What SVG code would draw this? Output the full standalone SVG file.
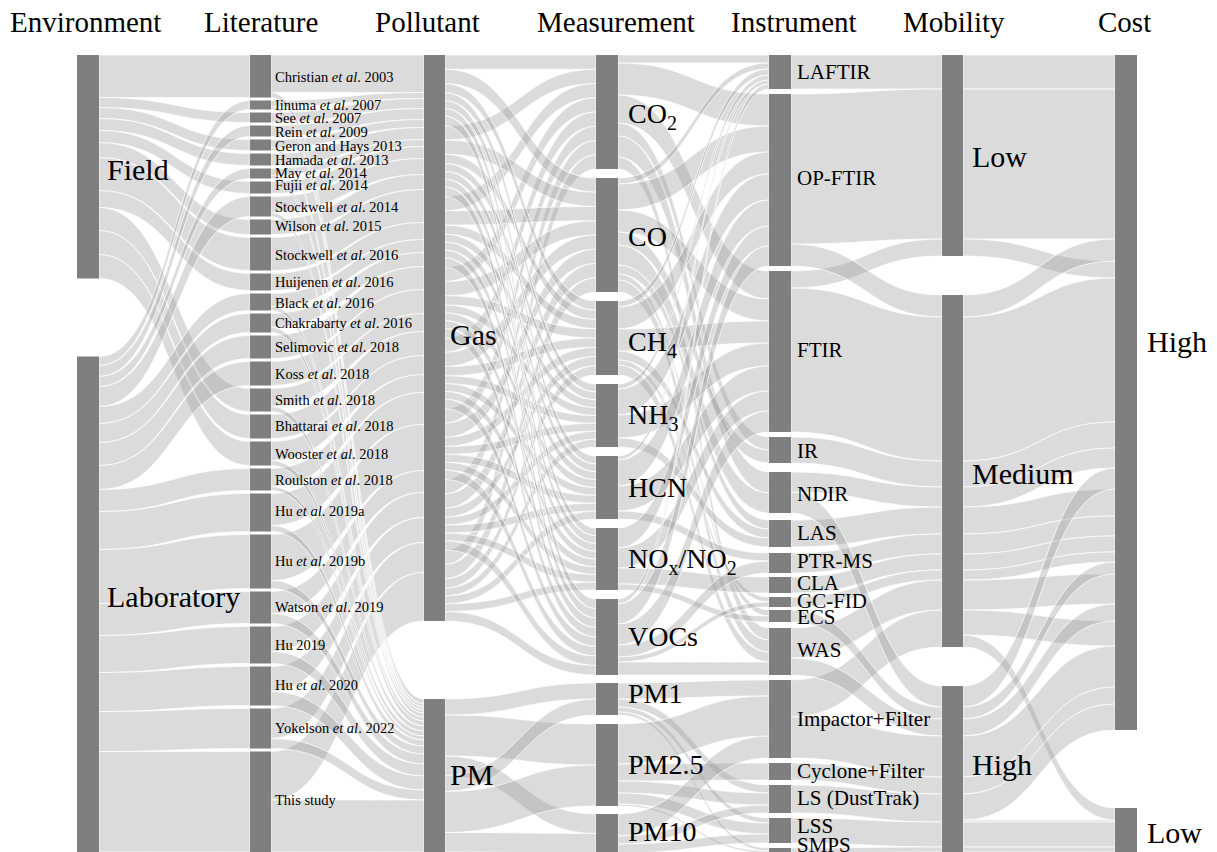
<svg xmlns="http://www.w3.org/2000/svg" width="1217" height="852" viewBox="0 0 1217 852">
<style>
.lk path{fill:#9a9a9a;fill-opacity:.36;stroke:#fff;stroke-width:.8;stroke-opacity:.9}
.nd{fill:#7f7f7f}
text{font-family:"Liberation Serif","Times New Roman",serif;fill:#000}
.hd{font-size:29px}
.lg{font-size:30px}
.ms{font-size:28px}
.in{font-size:21px}
.lt{font-size:14.5px}
.sb{font-size:20px}
.it{font-style:italic}
</style>
<rect width="1217" height="852" fill="#fff"/>
<g id="headers">
<text class="hd" x="10" y="32">Environment</text>
<text class="hd" x="204" y="32">Literature</text>
<text class="hd" x="375" y="32">Pollutant</text>
<text class="hd" x="537" y="32">Measurement</text>
<text class="hd" x="731" y="32">Instrument</text>
<text class="hd" x="903" y="32">Mobility</text>
<text class="hd" x="1098" y="32">Cost</text>
</g>
<g id="links" class="lk">
<g id="env-lit">
<path d="M99 55c75.5 0 75.5 0 151 0v42.5c-75.5 0-75.5 0-151 0z"/>
<path d="M99 97.5c75.5 0 75.5 15 151 15v10c-75.5 0-75.5-15-151-15z"/>
<path d="M99 107.5c75.5 0 75.5 32 151 32v11c-75.5 0-75.5-32-151-32z"/>
<path d="M99 118.5c75.5 0 75.5 35 151 35v12c-75.5 0-75.5-35-151-35z"/>
<path d="M99 130.5c75.5 0 75.5 51 151 51v12c-75.5 0-75.5-51-151-51z"/>
<path d="M99 142.5c75.5 0 75.5 77 151 77v15c-75.5 0-75.5-77-151-77z"/>
<path d="M99 157.5c75.5 0 75.5 80 151 80v33c-75.5 0-75.5-80-151-80z"/>
<path d="M99 190.5c75.5 0 75.5 83 151 83v17c-75.5 0-75.5-83-151-83z"/>
<path d="M99 207.5c75.5 0 75.5 181 151 181v23c-75.5 0-75.5-181-151-181z"/>
<path d="M99 230.5c75.5 0 75.5 184 151 184v24c-75.5 0-75.5-184-151-184z"/>
<path d="M99 254.5c75.5 0 75.5 187 151 187v24c-75.5 0-75.5-187-151-187z"/>
<path d="M99 356.5c75.5 0 75.5-256 151-256v9c-75.5 0-75.5 256-151 256z"/>
<path d="M99 365.5c75.5 0 75.5-240 151-240v11c-75.5 0-75.5 240-151 240z"/>
<path d="M99 376.5c75.5 0 75.5-208 151-208v10c-75.5 0-75.5 208-151 208z"/>
<path d="M99 386.5c75.5 0 75.5-190 151-190v20c-75.5 0-75.5 190-151 190z"/>
<path d="M99 406.5c75.5 0 75.5-113 151-113v17c-75.5 0-75.5 113-151 113z"/>
<path d="M99 423.5c75.5 0 75.5-110 151-110v19c-75.5 0-75.5 110-151 110z"/>
<path d="M99 442.5c75.5 0 75.5-107 151-107v23c-75.5 0-75.5 107-151 107z"/>
<path d="M99 465.5c75.5 0 75.5-104 151-104v24c-75.5 0-75.5 104-151 104z"/>
<path d="M99 489.5c75.5 0 75.5-21 151-21v22c-75.5 0-75.5 21-151 21z"/>
<path d="M99 511.5c75.5 0 75.5-18 151-18v38c-75.5 0-75.5 18-151 18z"/>
<path d="M99 549.5c75.5 0 75.5-15 151-15v54c-75.5 0-75.5 15-151 15z"/>
<path d="M99 603.5c75.5 0 75.5-12 151-12v32c-75.5 0-75.5 12-151 12z"/>
<path d="M99 635.5c75.5 0 75.5-9 151-9v37c-75.5 0-75.5 9-151 9z"/>
<path d="M99 672.5c75.5 0 75.5-6 151-6v39c-75.5 0-75.5 6-151 6z"/>
<path d="M99 711.5c75.5 0 75.5-3 151-3v40c-75.5 0-75.5 3-151 3z"/>
<path d="M99 751.5c75.5 0 75.5 0 151 0v100.5c-75.5 0-75.5 0-151 0z"/>
</g>
<g id="lit-pol">
<path d="M271 55c76.5 0 76.5 0 153 0v37.5c-76.5 0-76.5 0-153 0z"/>
<path d="M271 100.5c76.5 0 76.5-8 153-8v6c-76.5 0-76.5 8-153 8z"/>
<path d="M271 112.5c76.5 0 76.5-14 153-14v10c-76.5 0-76.5 14-153 14z"/>
<path d="M271 125.5c76.5 0 76.5-17 153-17v11c-76.5 0-76.5 17-153 17z"/>
<path d="M271 139.5c76.5 0 76.5-20 153-20v8c-76.5 0-76.5 20-153 20z"/>
<path d="M271 153.5c76.5 0 76.5-26 153-26v12c-76.5 0-76.5 26-153 26z"/>
<path d="M271 168.5c76.5 0 76.5-29 153-29v7c-76.5 0-76.5 29-153 29z"/>
<path d="M271 181.5c76.5 0 76.5-35 153-35v12c-76.5 0-76.5 35-153 35z"/>
<path d="M271 196.5c76.5 0 76.5-38 153-38v16c-76.5 0-76.5 38-153 38z"/>
<path d="M271 219.5c76.5 0 76.5-45 153-45v15c-76.5 0-76.5 45-153 45z"/>
<path d="M271 237.5c76.5 0 76.5-48 153-48v33c-76.5 0-76.5 48-153 48z"/>
<path d="M271 273.5c76.5 0 76.5-51 153-51v17c-76.5 0-76.5 51-153 51z"/>
<path d="M271 293.5c76.5 0 76.5-54 153-54v13c-76.5 0-76.5 54-153 54z"/>
<path d="M271 313.5c76.5 0 76.5-61 153-61v14c-76.5 0-76.5 61-153 61z"/>
<path d="M271 335.5c76.5 0 76.5-69 153-69v23c-76.5 0-76.5 69-153 69z"/>
<path d="M271 361.5c76.5 0 76.5-72 153-72v24c-76.5 0-76.5 72-153 72z"/>
<path d="M271 388.5c76.5 0 76.5-75 153-75v18c-76.5 0-76.5 75-153 75z"/>
<path d="M271 414.5c76.5 0 76.5-83 153-83v24c-76.5 0-76.5 83-153 83z"/>
<path d="M271 441.5c76.5 0 76.5-86 153-86v19c-76.5 0-76.5 86-153 86z"/>
<path d="M271 468.5c76.5 0 76.5-94 153-94v18c-76.5 0-76.5 94-153 94z"/>
<path d="M271 493.5c76.5 0 76.5-101 153-101v32c-76.5 0-76.5 101-153 101z"/>
<path d="M271 534.5c76.5 0 76.5-110 153-110v46c-76.5 0-76.5 110-153 110z"/>
<path d="M271 591.5c76.5 0 76.5-121 153-121v22c-76.5 0-76.5 121-153 121z"/>
<path d="M271 626.5c76.5 0 76.5-134 153-134v25c-76.5 0-76.5 134-153 134z"/>
<path d="M271 666.5c76.5 0 76.5-149 153-149v25c-76.5 0-76.5 149-153 149z"/>
<path d="M271 708.5c76.5 0 76.5-166 153-166v30c-76.5 0-76.5 166-153 166z"/>
<path d="M271 751.5c76.5 0 76.5-179 153-179v48.5c-76.5 0-76.5 179-153 179z"/>
<path d="M271 92.5c76.5 0 76.5 606.5 153 606.5v5c-76.5 0-76.5-606.5-153-606.5z"/>
<path d="M271 106.5c76.5 0 76.5 597.5 153 597.5v3c-76.5 0-76.5-597.5-153-597.5z"/>
<path d="M271 147.5c76.5 0 76.5 559.5 153 559.5v3c-76.5 0-76.5-559.5-153-559.5z"/>
<path d="M271 175.5c76.5 0 76.5 534.5 153 534.5v3c-76.5 0-76.5-534.5-153-534.5z"/>
<path d="M271 212.5c76.5 0 76.5 500.5 153 500.5v4c-76.5 0-76.5-500.5-153-500.5z"/>
<path d="M271 306.5c76.5 0 76.5 410.5 153 410.5v4c-76.5 0-76.5-410.5-153-410.5z"/>
<path d="M271 327.5c76.5 0 76.5 393.5 153 393.5v5c-76.5 0-76.5-393.5-153-393.5z"/>
<path d="M271 406.5c76.5 0 76.5 319.5 153 319.5v5c-76.5 0-76.5-319.5-153-319.5z"/>
<path d="M271 460.5c76.5 0 76.5 270.5 153 270.5v5c-76.5 0-76.5-270.5-153-270.5z"/>
<path d="M271 486.5c76.5 0 76.5 249.5 153 249.5v4c-76.5 0-76.5-249.5-153-249.5z"/>
<path d="M271 525.5c76.5 0 76.5 214.5 153 214.5v6c-76.5 0-76.5-214.5-153-214.5z"/>
<path d="M271 580.5c76.5 0 76.5 165.5 153 165.5v8c-76.5 0-76.5-165.5-153-165.5z"/>
<path d="M271 613.5c76.5 0 76.5 140.5 153 140.5v10c-76.5 0-76.5-140.5-153-140.5z"/>
<path d="M271 651.5c76.5 0 76.5 112.5 153 112.5v12c-76.5 0-76.5-112.5-153-112.5z"/>
<path d="M271 691.5c76.5 0 76.5 84.5 153 84.5v14c-76.5 0-76.5-84.5-153-84.5z"/>
<path d="M271 738.5c76.5 0 76.5 51.5 153 51.5v10c-76.5 0-76.5-51.5-153-51.5z"/>
<path d="M271 800c76.5 0 76.5 0 153 0v52c-76.5 0-76.5 0-153 0z"/>
</g>
<g id="pol-meas">
<path d="M445 55c75.5 0 75.5 0 151 0v14.25c-75.5 0-75.5 0-151 0z"/>
<path d="M445 125.75c75.5 0 75.5-56.5 151-56.5v14.25c-75.5 0-75.5 56.5-151 56.5z"/>
<path d="M445 196.5c75.5 0 75.5-113 151-113v14.25c-75.5 0-75.5 113-151 113z"/>
<path d="M445 267.25c75.5 0 75.5-169.5 151-169.5v14.25c-75.5 0-75.5 169.5-151 169.5z"/>
<path d="M445 338c75.5 0 75.5-226 151-226v14.25c-75.5 0-75.5 226-151 226z"/>
<path d="M445 408.75c75.5 0 75.5-282.5 151-282.5v14.25c-75.5 0-75.5 282.5-151 282.5z"/>
<path d="M445 479.5c75.5 0 75.5-339 151-339v14.25c-75.5 0-75.5 339-151 339z"/>
<path d="M445 550.25c75.5 0 75.5-395.5 151-395.5v14.25c-75.5 0-75.5 395.5-151 395.5z"/>
<path d="M445 69.25c75.5 0 75.5 108.75 151 108.75v14.25c-75.5 0-75.5-108.75-151-108.75z"/>
<path d="M445 140c75.5 0 75.5 52.25 151 52.25v14.25c-75.5 0-75.5-52.25-151-52.25z"/>
<path d="M445 210.75c75.5 0 75.5-4.25 151-4.25v14.25c-75.5 0-75.5 4.25-151 4.25z"/>
<path d="M445 281.5c75.5 0 75.5-60.75 151-60.75v14.25c-75.5 0-75.5 60.75-151 60.75z"/>
<path d="M445 352.25c75.5 0 75.5-117.25 151-117.25v14.25c-75.5 0-75.5 117.25-151 117.25z"/>
<path d="M445 423c75.5 0 75.5-173.75 151-173.75v14.25c-75.5 0-75.5 173.75-151 173.75z"/>
<path d="M445 493.75c75.5 0 75.5-230.25 151-230.25v14.25c-75.5 0-75.5 230.25-151 230.25z"/>
<path d="M445 564.5c75.5 0 75.5-286.75 151-286.75v14.25c-75.5 0-75.5 286.75-151 286.75z"/>
<path d="M445 83.5c75.5 0 75.5 217.5 151 217.5v9.25c-75.5 0-75.5-217.5-151-217.5z"/>
<path d="M445 154.25c75.5 0 75.5 156 151 156v9.25c-75.5 0-75.5-156-151-156z"/>
<path d="M445 225c75.5 0 75.5 94.5 151 94.5v9.25c-75.5 0-75.5-94.5-151-94.5z"/>
<path d="M445 295.75c75.5 0 75.5 33 151 33v9.25c-75.5 0-75.5-33-151-33z"/>
<path d="M445 366.5c75.5 0 75.5-28.5 151-28.5v9.25c-75.5 0-75.5 28.5-151 28.5z"/>
<path d="M445 437.25c75.5 0 75.5-90 151-90v9.25c-75.5 0-75.5 90-151 90z"/>
<path d="M445 508c75.5 0 75.5-151.5 151-151.5v9.25c-75.5 0-75.5 151.5-151 151.5z"/>
<path d="M445 578.75c75.5 0 75.5-213 151-213v9.25c-75.5 0-75.5 213-151 213z"/>
<path d="M445 92.75c75.5 0 75.5 291.25 151 291.25v7.88c-75.5 0-75.5-291.25-151-291.25z"/>
<path d="M445 163.5c75.5 0 75.5 228.37 151 228.37v7.88c-75.5 0-75.5-228.37-151-228.37z"/>
<path d="M445 234.25c75.5 0 75.5 165.5 151 165.5v7.88c-75.5 0-75.5-165.5-151-165.5z"/>
<path d="M445 305c75.5 0 75.5 102.62 151 102.62v7.88c-75.5 0-75.5-102.62-151-102.62z"/>
<path d="M445 375.75c75.5 0 75.5 39.75 151 39.75v7.88c-75.5 0-75.5-39.75-151-39.75z"/>
<path d="M445 446.5c75.5 0 75.5-23.13 151-23.13v7.88c-75.5 0-75.5 23.13-151 23.13z"/>
<path d="M445 517.25c75.5 0 75.5-86 151-86v7.88c-75.5 0-75.5 86-151 86z"/>
<path d="M445 588c75.5 0 75.5-148.88 151-148.88v7.88c-75.5 0-75.5 148.88-151 148.88z"/>
<path d="M445 100.62c75.5 0 75.5 355.38 151 355.38v7.88c-75.5 0-75.5-355.38-151-355.38z"/>
<path d="M445 171.37c75.5 0 75.5 292.5 151 292.5v7.88c-75.5 0-75.5-292.5-151-292.5z"/>
<path d="M445 242.12c75.5 0 75.5 229.63 151 229.63v7.88c-75.5 0-75.5-229.63-151-229.63z"/>
<path d="M445 312.87c75.5 0 75.5 166.75 151 166.75v7.88c-75.5 0-75.5-166.75-151-166.75z"/>
<path d="M445 383.62c75.5 0 75.5 103.88 151 103.88v7.88c-75.5 0-75.5-103.88-151-103.88z"/>
<path d="M445 454.37c75.5 0 75.5 41 151 41v7.88c-75.5 0-75.5-41-151-41z"/>
<path d="M445 525.12c75.5 0 75.5-21.87 151-21.87v7.88c-75.5 0-75.5 21.87-151 21.87z"/>
<path d="M445 595.87c75.5 0 75.5-84.75 151-84.75v7.88c-75.5 0-75.5 84.75-151 84.75z"/>
<path d="M445 108.5c75.5 0 75.5 419.5 151 419.5v7.75c-75.5 0-75.5-419.5-151-419.5z"/>
<path d="M445 179.25c75.5 0 75.5 356.5 151 356.5v7.75c-75.5 0-75.5-356.5-151-356.5z"/>
<path d="M445 250c75.5 0 75.5 293.5 151 293.5v7.75c-75.5 0-75.5-293.5-151-293.5z"/>
<path d="M445 320.75c75.5 0 75.5 230.5 151 230.5v7.75c-75.5 0-75.5-230.5-151-230.5z"/>
<path d="M445 391.5c75.5 0 75.5 167.5 151 167.5v7.75c-75.5 0-75.5-167.5-151-167.5z"/>
<path d="M445 462.25c75.5 0 75.5 104.5 151 104.5v7.75c-75.5 0-75.5-104.5-151-104.5z"/>
<path d="M445 533c75.5 0 75.5 41.5 151 41.5v7.75c-75.5 0-75.5-41.5-151-41.5z"/>
<path d="M445 603.75c75.5 0 75.5-21.5 151-21.5v7.75c-75.5 0-75.5 21.5-151 21.5z"/>
<path d="M445 116.25c75.5 0 75.5 482.75 151 482.75v9.5c-75.5 0-75.5-482.75-151-482.75z"/>
<path d="M445 187c75.5 0 75.5 421.5 151 421.5v9.5c-75.5 0-75.5-421.5-151-421.5z"/>
<path d="M445 257.75c75.5 0 75.5 360.25 151 360.25v9.5c-75.5 0-75.5-360.25-151-360.25z"/>
<path d="M445 328.5c75.5 0 75.5 299 151 299v9.5c-75.5 0-75.5-299-151-299z"/>
<path d="M445 399.25c75.5 0 75.5 237.75 151 237.75v9.5c-75.5 0-75.5-237.75-151-237.75z"/>
<path d="M445 470c75.5 0 75.5 176.5 151 176.5v9.5c-75.5 0-75.5-176.5-151-176.5z"/>
<path d="M445 540.75c75.5 0 75.5 115.25 151 115.25v9.5c-75.5 0-75.5-115.25-151-115.25z"/>
<path d="M445 611.5c75.5 0 75.5 54 151 54v9.5c-75.5 0-75.5-54-151-54z"/>
<path d="M445 699c75.5 0 75.5-16 151-16v16c-75.5 0-75.5 16-151 16z"/>
<path d="M445 715c75.5 0 75.5 9 151 9v41c-75.5 0-75.5-9-151-9z"/>
<path d="M445 756c75.5 0 75.5 58 151 58v19.5c-75.5 0-75.5-58-151-58z"/>
<path d="M445 775.5c75.5 0 75.5-76.5 151-76.5v16c-75.5 0-75.5 76.5-151 76.5z"/>
<path d="M445 791.5c75.5 0 75.5-26.5 151-26.5v41c-75.5 0-75.5 26.5-151 26.5z"/>
<path d="M445 832.5c75.5 0 75.5 1 151 1v19.5c-75.5 0-75.5-1-151-1z"/>
</g>
<g id="meas-inst">
<path d="M618 55c75.5 0 75.5 0 151 0v8c-75.5 0-75.5 0-151 0z"/>
<path d="M618 63c75.5 0 75.5 31 151 31v32c-75.5 0-75.5-31-151-31z"/>
<path d="M618 95c75.5 0 75.5 176 151 176v28c-75.5 0-75.5-176-151-176z"/>
<path d="M618 123c75.5 0 75.5 314 151 314v13c-75.5 0-75.5-314-151-314z"/>
<path d="M618 136c75.5 0 75.5 336 151 336v21c-75.5 0-75.5-336-151-336z"/>
<path d="M618 157c75.5 0 75.5 471 151 471v12c-75.5 0-75.5-471-151-471z"/>
<path d="M618 178c75.5 0 75.5-115 151-115v6c-75.5 0-75.5 115-151 115z"/>
<path d="M618 184c75.5 0 75.5-58 151-58v26c-75.5 0-75.5 58-151 58z"/>
<path d="M618 210c75.5 0 75.5 89 151 89v22c-75.5 0-75.5-89-151-89z"/>
<path d="M618 232c75.5 0 75.5 218 151 218v13c-75.5 0-75.5-218-151-218z"/>
<path d="M618 245c75.5 0 75.5 248 151 248v20c-75.5 0-75.5-248-151-248z"/>
<path d="M618 265c75.5 0 75.5 255 151 255v9c-75.5 0-75.5-255-151-255z"/>
<path d="M618 274c75.5 0 75.5 336 151 336v6c-75.5 0-75.5-336-151-336z"/>
<path d="M618 280c75.5 0 75.5 360 151 360v12c-75.5 0-75.5-360-151-360z"/>
<path d="M618 301c75.5 0 75.5-232 151-232v6c-75.5 0-75.5 232-151 232z"/>
<path d="M618 307c75.5 0 75.5-155 151-155v22c-75.5 0-75.5 155-151 155z"/>
<path d="M618 329c75.5 0 75.5-8 151-8v22c-75.5 0-75.5 8-151 8z"/>
<path d="M618 351c75.5 0 75.5 178 151 178v9c-75.5 0-75.5-178-151-178z"/>
<path d="M618 360c75.5 0 75.5 237 151 237v5c-75.5 0-75.5-237-151-237z"/>
<path d="M618 365c75.5 0 75.5 287 151 287v10c-75.5 0-75.5-287-151-287z"/>
<path d="M618 384c75.5 0 75.5-309 151-309v5c-75.5 0-75.5 309-151 309z"/>
<path d="M618 389c75.5 0 75.5-215 151-215v26c-75.5 0-75.5 215-151 215z"/>
<path d="M618 415c75.5 0 75.5-72 151-72v23c-75.5 0-75.5 72-151 72z"/>
<path d="M618 438c75.5 0 75.5 100 151 100v9c-75.5 0-75.5-100-151-100z"/>
<path d="M618 456c75.5 0 75.5-376 151-376v4c-75.5 0-75.5 376-151 376z"/>
<path d="M618 460c75.5 0 75.5-260 151-260v26c-75.5 0-75.5 260-151 260z"/>
<path d="M618 486c75.5 0 75.5-120 151-120v25c-75.5 0-75.5 120-151 120z"/>
<path d="M618 511c75.5 0 75.5 42 151 42v8c-75.5 0-75.5-42-151-42z"/>
<path d="M618 528c75.5 0 75.5-302 151-302v20c-75.5 0-75.5 302-151 302z"/>
<path d="M618 548c75.5 0 75.5-157 151-157v20c-75.5 0-75.5 157-151 157z"/>
<path d="M618 568c75.5 0 75.5 9 151 9v16c-75.5 0-75.5-9-151-9z"/>
<path d="M618 584c75.5 0 75.5 32 151 32v6c-75.5 0-75.5-32-151-32z"/>
<path d="M618 599c75.5 0 75.5-515 151-515v5c-75.5 0-75.5 515-151 515z"/>
<path d="M618 604c75.5 0 75.5-358 151-358v20c-75.5 0-75.5 358-151 358z"/>
<path d="M618 624c75.5 0 75.5-213 151-213v21c-75.5 0-75.5 213-151 213z"/>
<path d="M618 645c75.5 0 75.5-84 151-84v12c-75.5 0-75.5 84-151 84z"/>
<path d="M618 657c75.5 0 75.5-55 151-55v5c-75.5 0-75.5 55-151 55z"/>
<path d="M618 662c75.5 0 75.5 0 151 0v13c-75.5 0-75.5 0-151 0z"/>
<path d="M618 683c75.5 0 75.5-3 151-3v16c-75.5 0-75.5 3-151 3z"/>
<path d="M618 699c75.5 0 75.5 86 151 86v8c-75.5 0-75.5-86-151-86z"/>
<path d="M618 707c75.5 0 75.5 111 151 111v5c-75.5 0-75.5-111-151-111z"/>
<path d="M618 712c75.5 0 75.5 136 151 136v3c-75.5 0-75.5-136-151-136z"/>
<path d="M618 724c75.5 0 75.5-28 151-28v40c-75.5 0-75.5 28-151 28z"/>
<path d="M618 764c75.5 0 75.5-1 151-1v17c-75.5 0-75.5 1-151 1z"/>
<path d="M618 781c75.5 0 75.5 12 151 12v12c-75.5 0-75.5-12-151-12z"/>
<path d="M618 793c75.5 0 75.5 30 151 30v11c-75.5 0-75.5-30-151-30z"/>
<path d="M618 804c75.5 0 75.5 47 151 47v2c-75.5 0-75.5-47-151-47z"/>
<path d="M618 814c75.5 0 75.5-78 151-78v22c-75.5 0-75.5 78-151 78z"/>
<path d="M618 836c75.5 0 75.5-31 151-31v8c-75.5 0-75.5 31-151 31z"/>
<path d="M618 844c75.5 0 75.5-10 151-10v9c-75.5 0-75.5 10-151 10z"/>
</g>
<g id="inst-mob">
<path d="M791 55c75.5 0 75.5 0 151 0v34c-75.5 0-75.5 0-151 0z"/>
<path d="M791 94c75.5 0 75.5-5 151-5v150c-75.5 0-75.5 5-151 5z"/>
<path d="M791 271c75.5 0 75.5-32 151-32v17c-75.5 0-75.5 32-151 32z"/>
<path d="M791 244c75.5 0 75.5 51 151 51v22c-75.5 0-75.5-51-151-51z"/>
<path d="M791 288c75.5 0 75.5 29 151 29v144c-75.5 0-75.5-29-151-29z"/>
<path d="M791 437c75.5 0 75.5 24 151 24v26c-75.5 0-75.5-24-151-24z"/>
<path d="M791 472c75.5 0 75.5 15 151 15v20c-75.5 0-75.5-15-151-15z"/>
<path d="M791 520c75.5 0 75.5-13 151-13v27c-75.5 0-75.5 13-151 13z"/>
<path d="M791 553c75.5 0 75.5-19 151-19v20c-75.5 0-75.5 19-151 19z"/>
<path d="M791 577c75.5 0 75.5-23 151-23v16c-75.5 0-75.5 23-151 23z"/>
<path d="M791 597c75.5 0 75.5-27 151-27v10c-75.5 0-75.5 27-151 27z"/>
<path d="M791 628c75.5 0 75.5-48 151-48v30c-75.5 0-75.5 48-151 48z"/>
<path d="M791 680c75.5 0 75.5-70 151-70v37c-75.5 0-75.5 70-151 70z"/>
<path d="M791 492c75.5 0 75.5 194 151 194v21c-75.5 0-75.5-194-151-194z"/>
<path d="M791 610c75.5 0 75.5 97 151 97v12c-75.5 0-75.5-97-151-97z"/>
<path d="M791 658c75.5 0 75.5 61 151 61v17c-75.5 0-75.5-61-151-61z"/>
<path d="M791 717c75.5 0 75.5 19 151 19v41c-75.5 0-75.5-19-151-19z"/>
<path d="M791 763c75.5 0 75.5 14 151 14v17c-75.5 0-75.5-14-151-14z"/>
<path d="M791 785c75.5 0 75.5 9 151 9v28c-75.5 0-75.5-9-151-9z"/>
<path d="M791 818c75.5 0 75.5 4 151 4v25c-75.5 0-75.5-4-151-4z"/>
<path d="M791 848c75.5 0 75.5-1 151-1v5c-75.5 0-75.5 1-151 1z"/>
</g>
<g id="mob-cost">
<path d="M963 55c76 0 76 0 152 0v34c-76 0-76 0-152 0z"/>
<path d="M963 89c76 0 76 0 152 0v150c-76 0-76 0-152 0z"/>
<path d="M963 239c76 0 76 22 152 22v17c-76 0-76-22-152-22z"/>
<path d="M963 295c76 0 76-56 152-56v22c-76 0-76 56-152 56z"/>
<path d="M963 317c76 0 76-39 152-39v144c-76 0-76 39-152 39z"/>
<path d="M963 461c76 0 76-39 152-39v26c-76 0-76 39-152 39z"/>
<path d="M963 487c76 0 76-39 152-39v20c-76 0-76 39-152 39z"/>
<path d="M963 507c76 0 76-18 152-18v27c-76 0-76 18-152 18z"/>
<path d="M963 534c76 0 76-18 152-18v20c-76 0-76 18-152 18z"/>
<path d="M963 554c76 0 76-18 152-18v16c-76 0-76 18-152 18z"/>
<path d="M963 570c76 0 76-18 152-18v10c-76 0-76 18-152 18z"/>
<path d="M963 580c76 0 76-6 152-6v30c-76 0-76 6-152 6z"/>
<path d="M963 610c76 0 76 11 152 11v25c-76 0-76-11-152-11z"/>
<path d="M963 635c76 0 76 173 152 173v12c-76 0-76-173-152-173z"/>
<path d="M963 686c76 0 76-218 152-218v21c-76 0-76 218-152 218z"/>
<path d="M963 707c76 0 76-145 152-145v12c-76 0-76 145-152 145z"/>
<path d="M963 719c76 0 76-115 152-115v17c-76 0-76 115-152 115z"/>
<path d="M963 736c76 0 76-90 152-90v41c-76 0-76 90-152 90z"/>
<path d="M963 777c76 0 76-90 152-90v17c-76 0-76 90-152 90z"/>
<path d="M963 794c76 0 76-90 152-90v26c-76 0-76 90-152 90z"/>
<path d="M963 820c76 0 76 0 152 0v2c-76 0-76 0-152 0z"/>
<path d="M963 822c76 0 76 0 152 0v25c-76 0-76 0-152 0z"/>
<path d="M963 847c76 0 76 0 152 0v5c-76 0-76 0-152 0z"/>
</g>
</g>
<g id="n-field"><rect class="nd" x="77" y="55" width="22" height="223.5"/><text class="lg" x="107" y="180">Field</text></g>
<g id="n-laboratory"><rect class="nd" x="77" y="356.5" width="22" height="495.5"/><text class="lg" x="107" y="607">Laboratory</text></g>
<g id="n-christian2003"><rect class="nd" x="250" y="55" width="21" height="42.5"/><text class="lt" x="275" y="82">Christian <tspan class="it">et al</tspan>. 2003</text></g>
<g id="n-iinuma2007"><rect class="nd" x="250" y="100.5" width="21" height="9"/><text class="lt" x="275" y="110">Iinuma <tspan class="it">et al</tspan>. 2007</text></g>
<g id="n-see2007"><rect class="nd" x="250" y="112.5" width="21" height="10"/><text class="lt" x="275" y="123">See <tspan class="it">et al</tspan>. 2007</text></g>
<g id="n-rein2009"><rect class="nd" x="250" y="125.5" width="21" height="11"/><text class="lt" x="275" y="137">Rein <tspan class="it">et al</tspan>. 2009</text></g>
<g id="n-geron2013"><rect class="nd" x="250" y="139.5" width="21" height="11"/><text class="lt" x="275" y="151">Geron and Hays 2013</text></g>
<g id="n-hamada2013"><rect class="nd" x="250" y="153.5" width="21" height="12"/><text class="lt" x="275" y="165">Hamada <tspan class="it">et al</tspan>. 2013</text></g>
<g id="n-may2014"><rect class="nd" x="250" y="168.5" width="21" height="10"/><text class="lt" x="275" y="178">May <tspan class="it">et al</tspan>. 2014</text></g>
<g id="n-fujii2014"><rect class="nd" x="250" y="181.5" width="21" height="12"/><text class="lt" x="275" y="190">Fujii <tspan class="it">et al</tspan>. 2014</text></g>
<g id="n-stockwell2014"><rect class="nd" x="250" y="196.5" width="21" height="20"/><text class="lt" x="275" y="212">Stockwell <tspan class="it">et al</tspan>. 2014</text></g>
<g id="n-wilson2015"><rect class="nd" x="250" y="219.5" width="21" height="15"/><text class="lt" x="275" y="231">Wilson <tspan class="it">et al</tspan>. 2015</text></g>
<g id="n-stockwell2016"><rect class="nd" x="250" y="237.5" width="21" height="33"/><text class="lt" x="275" y="260">Stockwell <tspan class="it">et al</tspan>. 2016</text></g>
<g id="n-huijenen2016"><rect class="nd" x="250" y="273.5" width="21" height="17"/><text class="lt" x="275" y="287">Huijenen <tspan class="it">et al</tspan>. 2016</text></g>
<g id="n-black2016"><rect class="nd" x="250" y="293.5" width="21" height="17"/><text class="lt" x="275" y="308">Black <tspan class="it">et al</tspan>. 2016</text></g>
<g id="n-chakrabarty2016"><rect class="nd" x="250" y="313.5" width="21" height="19"/><text class="lt" x="275" y="328">Chakrabarty <tspan class="it">et al</tspan>. 2016</text></g>
<g id="n-selimovic2018"><rect class="nd" x="250" y="335.5" width="21" height="23"/><text class="lt" x="275" y="352">Selimovic <tspan class="it">et al</tspan>. 2018</text></g>
<g id="n-koss2018"><rect class="nd" x="250" y="361.5" width="21" height="24"/><text class="lt" x="275" y="379">Koss <tspan class="it">et al</tspan>. 2018</text></g>
<g id="n-smith2018"><rect class="nd" x="250" y="388.5" width="21" height="23"/><text class="lt" x="275" y="405">Smith <tspan class="it">et al</tspan>. 2018</text></g>
<g id="n-bhattarai2018"><rect class="nd" x="250" y="414.5" width="21" height="24"/><text class="lt" x="275" y="431">Bhattarai <tspan class="it">et al</tspan>. 2018</text></g>
<g id="n-wooster2018"><rect class="nd" x="250" y="441.5" width="21" height="24"/><text class="lt" x="275" y="459">Wooster <tspan class="it">et al</tspan>. 2018</text></g>
<g id="n-roulston2018"><rect class="nd" x="250" y="468.5" width="21" height="22"/><text class="lt" x="275" y="485">Roulston <tspan class="it">et al</tspan>. 2018</text></g>
<g id="n-hu2019a"><rect class="nd" x="250" y="493.5" width="21" height="38"/><text class="lt" x="275" y="516">Hu <tspan class="it">et al</tspan>. 2019a</text></g>
<g id="n-hu2019b"><rect class="nd" x="250" y="534.5" width="21" height="54"/><text class="lt" x="275" y="566">Hu <tspan class="it">et al</tspan>. 2019b</text></g>
<g id="n-watson2019"><rect class="nd" x="250" y="591.5" width="21" height="32"/><text class="lt" x="275" y="612">Watson <tspan class="it">et al</tspan>. 2019</text></g>
<g id="n-hu2019"><rect class="nd" x="250" y="626.5" width="21" height="37"/><text class="lt" x="275" y="650">Hu 2019</text></g>
<g id="n-hu2020"><rect class="nd" x="250" y="666.5" width="21" height="39"/><text class="lt" x="275" y="690">Hu <tspan class="it">et al</tspan>. 2020</text></g>
<g id="n-yokelson2022"><rect class="nd" x="250" y="708.5" width="21" height="40"/><text class="lt" x="275" y="733">Yokelson <tspan class="it">et al</tspan>. 2022</text></g>
<g id="n-thisstudy"><rect class="nd" x="250" y="751.5" width="21" height="100.5"/><text class="lt" x="275" y="805">This study</text></g>
<g id="n-gas"><rect class="nd" x="424" y="55" width="21" height="566"/><text class="lg" x="450" y="345">Gas</text></g>
<g id="n-pm"><rect class="nd" x="424" y="699" width="21" height="153"/><text class="lg" x="450" y="785">PM</text></g>
<g id="n-co2"><rect class="nd" x="596" y="55" width="22" height="114"/><text class="ms" x="628" y="123">CO<tspan class="sb" dy="7">2</tspan></text></g>
<g id="n-co"><rect class="nd" x="596" y="178" width="22" height="114"/><text class="ms" x="628" y="246">CO</text></g>
<g id="n-ch4"><rect class="nd" x="596" y="301" width="22" height="74"/><text class="ms" x="628" y="351">CH<tspan class="sb" dy="7">4</tspan></text></g>
<g id="n-nh3"><rect class="nd" x="596" y="384" width="22" height="63"/><text class="ms" x="628" y="424">NH<tspan class="sb" dy="7">3</tspan></text></g>
<g id="n-hcn"><rect class="nd" x="596" y="456" width="22" height="63"/><text class="ms" x="628" y="497">HCN</text></g>
<g id="n-nox"><rect class="nd" x="596" y="528" width="22" height="62"/><text class="ms" x="628" y="568">NO<tspan class="sb" dy="7">x</tspan><tspan dy="-7">/NO</tspan><tspan class="sb" dy="7">2</tspan></text></g>
<g id="n-vocs"><rect class="nd" x="596" y="599" width="22" height="76"/><text class="ms" x="628" y="646">VOCs</text></g>
<g id="n-pm1"><rect class="nd" x="596" y="683" width="22" height="32"/><text class="ms" x="628" y="703">PM1</text></g>
<g id="n-pm25"><rect class="nd" x="596" y="724" width="22" height="82"/><text class="ms" x="628" y="774">PM2.5</text></g>
<g id="n-pm10"><rect class="nd" x="596" y="814" width="22" height="39"/><text class="ms" x="628" y="841">PM10</text></g>
<g id="n-laftir"><rect class="nd" x="769" y="55" width="22" height="34"/><text class="in" x="797" y="79">LAFTIR</text></g>
<g id="n-opftir"><rect class="nd" x="769" y="94" width="22" height="172"/><text class="in" x="797" y="185">OP-FTIR</text></g>
<g id="n-ftir"><rect class="nd" x="769" y="271" width="22" height="161"/><text class="in" x="797" y="357">FTIR</text></g>
<g id="n-ir"><rect class="nd" x="769" y="437" width="22" height="26"/><text class="in" x="797" y="458">IR</text></g>
<g id="n-ndir"><rect class="nd" x="769" y="472" width="22" height="41"/><text class="in" x="797" y="501">NDIR</text></g>
<g id="n-las"><rect class="nd" x="769" y="520" width="22" height="27"/><text class="in" x="797" y="540">LAS</text></g>
<g id="n-ptrms"><rect class="nd" x="769" y="553" width="22" height="20"/><text class="in" x="797" y="568">PTR-MS</text></g>
<g id="n-cla"><rect class="nd" x="769" y="577" width="22" height="16"/><text class="in" x="797" y="590">CLA</text></g>
<g id="n-gcfid"><rect class="nd" x="769" y="597" width="22" height="10"/><text class="in" x="797" y="608">GC-FID</text></g>
<g id="n-ecs"><rect class="nd" x="769" y="610" width="22" height="12"/><text class="in" x="797" y="624">ECS</text></g>
<g id="n-was"><rect class="nd" x="769" y="628" width="22" height="47"/><text class="in" x="797" y="657">WAS</text></g>
<g id="n-impactor"><rect class="nd" x="769" y="680" width="22" height="78"/><text class="in" x="797" y="726">Impactor+Filter</text></g>
<g id="n-cyclone"><rect class="nd" x="769" y="763" width="22" height="17"/><text class="in" x="797" y="778">Cyclone+Filter</text></g>
<g id="n-ls"><rect class="nd" x="769" y="785" width="22" height="28"/><text class="in" x="797" y="805">LS (DustTrak)</text></g>
<g id="n-lss"><rect class="nd" x="769" y="818" width="22" height="25"/><text class="in" x="797" y="833">LSS</text></g>
<g id="n-smps"><rect class="nd" x="769" y="848" width="22" height="5"/><text class="in" x="797" y="852">SMPS</text></g>
<g id="n-mob-low"><rect class="nd" x="942" y="55" width="21" height="201"/><text class="lg" x="972" y="167">Low</text></g>
<g id="n-mob-medium"><rect class="nd" x="942" y="295" width="21" height="352"/><text class="lg" x="972" y="484">Medium</text></g>
<g id="n-mob-high"><rect class="nd" x="942" y="686" width="21" height="166"/><text class="lg" x="972" y="775">High</text></g>
<g id="n-cost-high"><rect class="nd" x="1115" y="55" width="22" height="675"/><text class="lg" x="1147" y="352">High</text></g>
<g id="n-cost-low"><rect class="nd" x="1115" y="808" width="22" height="44"/><text class="lg" x="1147" y="843">Low</text></g>
</svg>
